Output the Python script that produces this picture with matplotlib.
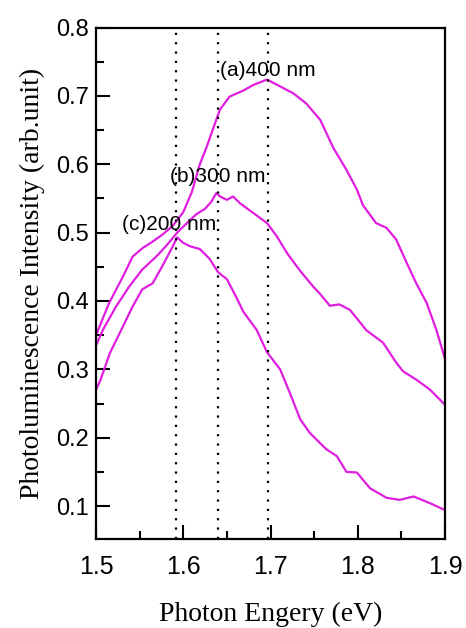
import matplotlib
matplotlib.use('Agg')
import matplotlib.pyplot as plt
from matplotlib.ticker import MultipleLocator

# photon energy (eV) and PL intensity
energy_a = [1.500, 1.515, 1.531, 1.542, 1.553, 1.565, 1.576, 1.588, 1.600, 1.610,
            1.619, 1.627, 1.635, 1.642, 1.653, 1.669, 1.680, 1.696, 1.711, 1.726,
            1.741, 1.757, 1.772, 1.787, 1.799, 1.806, 1.821, 1.833, 1.844, 1.856,
            1.867, 1.879, 1.890, 1.900]
pl_a = [0.350, 0.397, 0.436, 0.465, 0.477, 0.487, 0.497, 0.510, 0.530, 0.560,
        0.600, 0.626, 0.655, 0.680, 0.699, 0.708, 0.716, 0.724, 0.714, 0.704,
        0.689, 0.665, 0.624, 0.592, 0.563, 0.540, 0.514, 0.507, 0.490, 0.456,
        0.426, 0.397, 0.358, 0.315]

energy_b = [1.500, 1.508, 1.523, 1.538, 1.553, 1.569, 1.580, 1.593, 1.605, 1.615,
            1.625, 1.632, 1.638, 1.642, 1.650, 1.657, 1.665, 1.680, 1.696, 1.707,
            1.719, 1.734, 1.749, 1.757, 1.768, 1.779, 1.791, 1.810, 1.829, 1.844,
            1.852, 1.867, 1.883, 1.900]
pl_b = [0.335, 0.358, 0.392, 0.421, 0.446, 0.465, 0.480, 0.500, 0.515, 0.527,
        0.535, 0.545, 0.558, 0.553, 0.548, 0.553, 0.543, 0.529, 0.514, 0.495,
        0.470, 0.444, 0.421, 0.410, 0.393, 0.395, 0.387, 0.357, 0.339, 0.310,
        0.297, 0.285, 0.270, 0.248]

energy_c = [1.500, 1.505, 1.516, 1.531, 1.542, 1.553, 1.565, 1.576, 1.588, 1.593,
            1.600, 1.608, 1.619, 1.630, 1.640, 1.650, 1.661, 1.669, 1.684, 1.696,
            1.711, 1.722, 1.734, 1.745, 1.764, 1.776, 1.787, 1.799, 1.814, 1.833,
            1.848, 1.864, 1.883, 1.900]
pl_c = [0.270, 0.284, 0.324, 0.363, 0.392, 0.417, 0.426, 0.451, 0.480, 0.493,
        0.485, 0.480, 0.476, 0.462, 0.442, 0.432, 0.405, 0.384, 0.358, 0.325,
        0.300, 0.266, 0.227, 0.207, 0.183, 0.173, 0.150, 0.149, 0.126, 0.112,
        0.109, 0.114, 0.104, 0.094]

peak_positions = [1.592, 1.640, 1.697]
labels = ['(a)400 nm', '(b)300 nm', '(c)200 nm']
label_pos = [(1.642, 0.738), (1.585, 0.582), (1.530, 0.512)]

fig = plt.figure(figsize=(4.66, 6.28), dpi=100)
ax = fig.add_axes([0.206, 0.142, 0.749, 0.814])

col = '#e01ee0'
for e, p in [(energy_a, pl_a), (energy_b, pl_b), (energy_c, pl_c)]:
    ax.plot(e, p, color=col, lw=1.6)

for xp in peak_positions:
    ax.axvline(xp, color='black', lw=1.6, linestyle=(0, (1, 3.2)))

for txt, (tx, ty) in zip(labels, label_pos):
    ax.text(tx, ty, txt, fontsize=15, family='Liberation Sans', va='center', ha='left')

ax.set_xlim(1.5, 1.9)
ax.set_ylim(0.052, 0.8)
ax.xaxis.set_minor_locator(MultipleLocator(0.05))
ax.yaxis.set_minor_locator(MultipleLocator(0.05))

ax.tick_params(which='both', direction='in', width=1.5, top=False, right=False)
ax.tick_params(which='major', length=10)
ax.tick_params(which='minor', length=6)
ax.tick_params(axis='x', pad=12)
ax.tick_params(axis='y', pad=5)
ax.set_xticks([1.5, 1.6, 1.7, 1.8, 1.9])
ax.set_xticklabels(['1.5', '1.6', '1.7', '1.8', '1.9'], family='Liberation Sans', fontsize=18)
ax.set_yticks([0.1, 0.2, 0.3, 0.4, 0.5, 0.6, 0.7, 0.8])
ax.set_yticklabels(['0.1', '0.2', '0.3', '0.4', '0.5', '0.6', '0.7', '0.8'],
                   family='Liberation Sans', fontsize=17)

for s in ax.spines.values():
    s.set_linewidth(1.6)

ax.set_xlabel('Photon Engery (eV)', family='Liberation Serif', fontsize=20, labelpad=16)
ax.set_ylabel('Photoluminescence Intensity (arb.unit)', family='Liberation Serif',
              fontsize=20, labelpad=8)

fig.savefig('out.png', dpi=100)
